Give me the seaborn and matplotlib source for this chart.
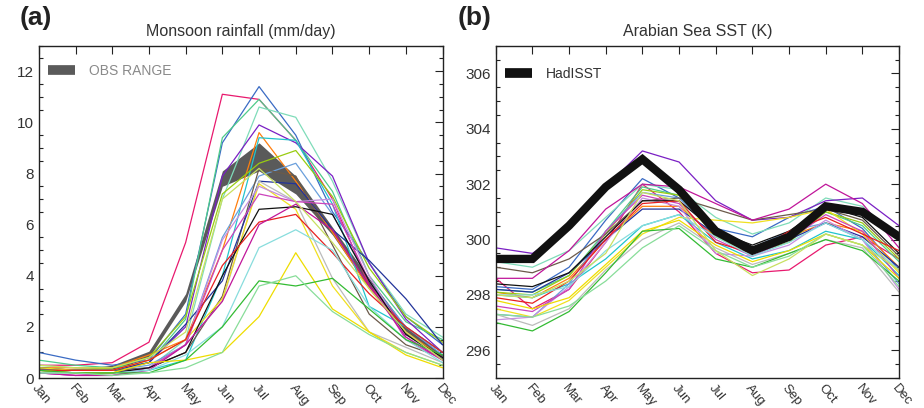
import numpy as np
import pandas as pd
import matplotlib
matplotlib.use("Agg")
import matplotlib.pyplot as plt
import seaborn as sns
from matplotlib.ticker import MultipleLocator

months = ["Jan", "Feb", "Mar", "Apr", "May", "Jun", "Jul", "Aug", "Sep", "Oct", "Nov", "Dec"]

# model colours (one per model, same order in both panels)
model_colors = ["#e8196e", "#3a6bc4", "#4ecb8a", "#7fdcb9", "#7a1fc4", "#ff7f0e",
                "#22c4cc", "#99cc11", "#6a9fdc", "#6b5a4a", "#22339a", "#bbbbbb",
                "#f0e020", "#c58fe0", "#cc44bb", "#111111", "#e62020", "#c0169a",
                "#88dddd", "#eedd00", "#33bb33", "#88dd99", "#c8e060"]

# (a) monsoon rainfall, mm/day
rain_models = [
    [0.5, 0.5, 0.6, 1.4, 5.3, 11.1, 10.9, 9.3, 7.0, 3.6, 2.0, 1.0],
    [1.0, 0.7, 0.5, 0.7, 2.5, 9.2, 11.4, 9.5, 6.5, 4.5, 2.4, 1.3],
    [0.7, 0.5, 0.4, 0.6, 2.3, 9.4, 10.9, 9.3, 7.3, 4.0, 2.2, 1.5],
    [0.5, 0.4, 0.3, 0.4, 1.5, 7.0, 10.6, 10.2, 7.7, 4.5, 2.5, 1.6],
    [0.3, 0.3, 0.3, 0.6, 2.0, 7.9, 9.9, 9.2, 7.9, 4.5, 2.3, 1.0],
    [0.4, 0.4, 0.4, 0.9, 1.5, 5.0, 9.6, 7.7, 5.7, 3.5, 1.8, 0.8],
    [0.3, 0.3, 0.3, 0.3, 0.7, 4.0, 9.4, 9.3, 6.8, 2.8, 2.0, 1.0],
    [0.4, 0.3, 0.4, 0.8, 2.4, 7.2, 8.4, 8.9, 7.1, 4.3, 2.4, 1.4],
    [0.3, 0.3, 0.3, 0.5, 1.3, 5.5, 7.9, 8.4, 6.4, 3.8, 2.0, 0.9],
    [0.3, 0.3, 0.3, 0.4, 1.0, 3.2, 8.2, 7.9, 5.2, 2.5, 1.3, 0.8],
    [0.4, 0.3, 0.3, 0.6, 2.1, 3.8, 7.7, 7.6, 5.8, 4.6, 3.1, 1.3],
    [0.2, 0.2, 0.2, 0.4, 1.3, 3.0, 7.7, 6.9, 3.9, 1.8, 1.2, 0.6],
    [0.4, 0.3, 0.3, 0.7, 1.5, 3.1, 7.6, 6.6, 3.6, 1.8, 1.0, 0.5],
    [0.2, 0.1, 0.1, 0.4, 1.3, 5.4, 7.5, 6.9, 7.0, 4.0, 1.6, 0.8],
    [0.2, 0.1, 0.2, 0.4, 1.3, 5.0, 7.2, 6.9, 6.8, 3.8, 1.5, 0.7],
    [0.3, 0.2, 0.2, 0.4, 1.0, 4.0, 6.6, 6.7, 6.4, 3.8, 1.7, 0.8],
    [0.3, 0.3, 0.3, 0.7, 1.5, 4.4, 6.1, 6.4, 4.9, 3.3, 2.0, 1.0],
    [0.2, 0.1, 0.1, 0.3, 1.3, 3.0, 6.0, 6.8, 5.8, 3.6, 1.6, 0.7],
    [0.2, 0.2, 0.2, 0.3, 0.9, 2.0, 5.1, 5.8, 5.0, 2.8, 1.5, 0.6],
    [0.3, 0.2, 0.2, 0.6, 0.7, 1.0, 2.4, 4.9, 2.7, 1.8, 0.9, 0.4],
    [0.3, 0.2, 0.2, 0.2, 0.7, 2.0, 3.8, 3.6, 3.9, 2.7, 1.5, 0.9],
    [0.2, 0.2, 0.1, 0.2, 0.4, 1.0, 3.6, 4.0, 2.6, 1.7, 1.0, 0.5],
    [0.5, 0.4, 0.4, 0.8, 1.8, 7.0, 8.2, 6.9, 5.3, 3.5, 1.8, 0.7],
]
obs_low = [0.3, 0.3, 0.3, 0.8, 3.0, 7.5, 8.1, 7.2, 5.6, 3.5, 1.7, 0.7]
obs_high = [0.4, 0.35, 0.5, 1.05, 3.3, 8.1, 9.2, 7.9, 5.9, 3.9, 2.0, 0.9]

# (b) Arabian Sea SST, K
sst_models = [
    [298.6, 297.5, 298.2, 299.9, 302.0, 301.0, 299.5, 298.8, 298.9, 299.8, 300.1, 299.3],
    [298.3, 298.2, 299.0, 300.7, 302.2, 301.5, 300.4, 300.1, 300.8, 301.2, 300.4, 298.9],
    [298.2, 298.1, 298.7, 300.3, 301.9, 301.6, 300.3, 299.6, 300.1, 301.0, 300.5, 299.2],
    [299.2, 299.0, 299.6, 300.8, 302.0, 301.8, 300.8, 300.2, 300.6, 301.5, 301.2, 300.1],
    [299.7, 299.5, 300.4, 301.9, 303.2, 302.8, 301.4, 300.7, 300.8, 301.4, 301.5, 300.5],
    [298.1, 297.9, 298.6, 300.0, 301.2, 301.2, 300.1, 299.5, 300.1, 300.6, 300.3, 299.0],
    [298.0, 297.9, 298.4, 299.3, 300.5, 300.9, 299.9, 299.3, 299.6, 300.3, 300.0, 298.7],
    [298.1, 298.0, 298.7, 300.2, 301.8, 301.6, 300.1, 299.5, 299.9, 301.0, 300.6, 299.3],
    [297.3, 297.2, 298.4, 300.3, 301.7, 301.5, 300.2, 299.7, 300.3, 300.6, 300.0, 298.4],
    [299.0, 298.8, 299.3, 300.2, 301.4, 301.5, 301.1, 300.7, 300.9, 301.1, 300.7, 299.4],
    [298.2, 298.1, 298.8, 300.0, 301.1, 301.1, 300.2, 299.5, 300.0, 300.6, 300.1, 299.0],
    [297.3, 296.9, 297.5, 298.9, 300.0, 300.6, 299.7, 299.1, 299.5, 300.0, 299.7, 298.1],
    [297.5, 297.2, 297.8, 299.0, 300.2, 300.8, 300.7, 300.6, 300.8, 301.1, 300.2, 298.8],
    [297.1, 297.2, 298.3, 299.9, 301.5, 301.2, 299.5, 299.4, 299.8, 300.7, 300.0, 298.2],
    [297.6, 297.4, 298.2, 300.3, 301.6, 301.3, 300.0, 299.4, 300.0, 300.9, 300.3, 298.6],
    [298.4, 298.3, 298.8, 300.1, 301.4, 301.4, 300.3, 299.8, 300.3, 301.2, 300.8, 299.5],
    [297.9, 297.7, 298.5, 300.0, 301.3, 301.4, 299.9, 299.5, 300.3, 300.8, 300.2, 299.6],
    [298.6, 298.6, 299.6, 301.1, 302.0, 301.9, 301.3, 300.7, 301.1, 302.0, 301.3, 299.7],
    [298.0, 298.0, 298.3, 299.6, 300.5, 300.9, 300.1, 299.4, 299.9, 300.6, 300.0, 298.9],
    [297.8, 297.5, 297.9, 299.1, 300.3, 300.7, 299.8, 299.2, 299.6, 300.2, 299.8, 298.6],
    [297.0, 296.7, 297.4, 298.8, 300.3, 300.4, 299.3, 299.0, 299.5, 300.0, 299.6, 298.5],
    [297.3, 297.2, 297.6, 298.5, 299.7, 300.5, 299.6, 299.0, 299.4, 300.2, 299.8, 298.3],
    [298.0, 297.9, 298.5, 299.5, 301.7, 301.4, 299.6, 298.7, 299.3, 300.2, 299.8, 298.9],
]
hadisst = [299.3, 299.3, 300.5, 301.9, 302.9, 301.8, 300.3, 299.6, 300.1, 301.2, 301.0, 300.1]


def long_table(series):
    rows = []
    for i, vals in enumerate(series):
        for m, v in enumerate(vals):
            rows.append({"model": f"m{i}", "month": m, "value": v})
    return pd.DataFrame(rows)


sns.set_style("white")
plt.rcParams["font.family"] = ["Liberation Sans", "DejaVu Sans"]
text_col = "#333333"

fig = plt.figure(figsize=(9.24, 4.08), dpi=100)
ax1 = fig.add_axes([0.042, 0.0735, 0.437, 0.8145])
ax2 = fig.add_axes([0.5365, 0.0735, 0.4365, 0.8145])

palette = {f"m{i}": c for i, c in enumerate(model_colors)}
x = np.arange(12)

# panel (a)
ax1.fill_between(x, obs_low, obs_high, color="#5a5a5a", lw=0, zorder=1)
sns.lineplot(data=long_table(rain_models), x="month", y="value", hue="model",
             palette=palette, lw=0.9, legend=False, ax=ax1, zorder=2)
ax1.set_ylim(0, 13)
ax1.set_title("Monsoon rainfall (mm/day)", fontsize=11.5, color=text_col, pad=7)
obs_patch = plt.Line2D([], [], color="#5a5a5a", lw=7, solid_capstyle="butt")
leg1 = ax1.legend([obs_patch], ["OBS RANGE"], loc="center left", frameon=False,
                  handlelength=2.0, handletextpad=1.0, fontsize=10,
                  borderaxespad=0, borderpad=0,
                  bbox_to_anchor=(0.022, 0.925))
leg1.get_texts()[0].set_color("#8a8a8a")

# panel (b)
sns.lineplot(data=long_table(sst_models), x="month", y="value", hue="model",
             palette=palette, lw=0.9, legend=False, ax=ax2, zorder=2)
sns.lineplot(x=x, y=hadisst, color="#111111", lw=6, ax=ax2, zorder=3)
ax2.lines[-1].set_solid_joinstyle("miter")
ax2.set_ylim(295, 307)
ax2.set_title("Arabian Sea SST (K)", fontsize=11.5, color=text_col, pad=7)
had_patch = plt.Line2D([], [], color="#111111", lw=7, solid_capstyle="butt")
leg2 = ax2.legend([had_patch], ["HadISST"], loc="center left", frameon=False,
                  handlelength=2.0, handletextpad=1.0, fontsize=10,
                  borderaxespad=0, borderpad=0,
                  bbox_to_anchor=(0.022, 0.915))
leg2.get_texts()[0].set_color(text_col)

for ax in (ax1, ax2):
    ax.yaxis.set_major_locator(MultipleLocator(2))
    ax.yaxis.set_minor_locator(MultipleLocator(0.5))
    ax.set_xlim(0, 11)
    ax.set_xticks(x)
    ax.set_xticklabels(months, rotation=-50, ha="left", va="top",
                       rotation_mode="anchor", fontsize=9.5, color=text_col)
    ax.set_xlabel("")
    ax.set_ylabel("")
    ax.tick_params(axis="both", which="major", direction="in", length=6,
                   width=0.8, top=True, right=True, colors="#222222",
                   labelcolor=text_col)
    ax.tick_params(axis="y", which="major", labelsize=11)
    ax.tick_params(axis="y", which="minor", direction="in", length=3,
                   width=0.8, left=True, right=True, colors="#222222")
    ax.tick_params(axis="x", pad=3)
    for s in ax.spines.values():
        s.set_color("#222222")
        s.set_linewidth(1.0)

fig.text(20 / 924, 1 - 6 / 408, "(a)", fontsize=19, fontweight="bold",
         color="#222222", ha="left", va="top")
fig.text(458 / 924, 1 - 6 / 408, "(b)", fontsize=19, fontweight="bold",
         color="#222222", ha="left", va="top")

fig.savefig("out.png", dpi=100)
